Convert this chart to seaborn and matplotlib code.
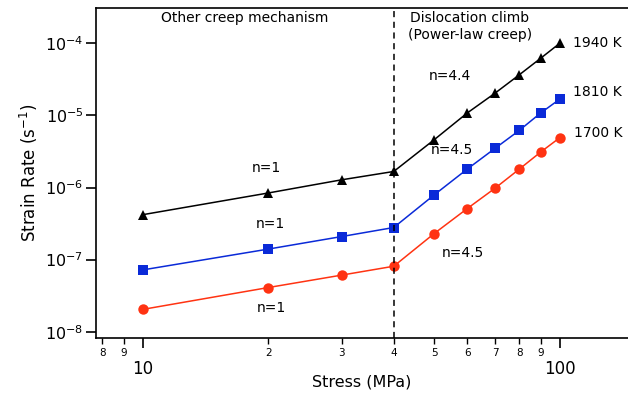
import numpy as np
import pandas as pd
import matplotlib

matplotlib.use("Agg")
import matplotlib.pyplot as plt
import matplotlib.ticker as mticker
import seaborn as sns

# ----------------------------------------------------------------------
# data
# ----------------------------------------------------------------------
stress = [10, 20, 30, 40, 50, 60, 70, 80, 90, 100]
rate_1940 = [4.2e-7, 8.4e-7, 1.28e-6, 1.67e-6, 4.6e-6, 1.08e-5, 2.04e-5, 3.66e-5, 6.2e-5, 1.0e-4]
rate_1810 = [7.2e-8, 1.40e-7, 2.09e-7, 2.79e-7, 7.9e-7, 1.8e-6, 3.5e-6, 6.2e-6, 1.08e-5, 1.68e-5]
rate_1700 = [2.04e-8, 4.1e-8, 6.1e-8, 8.1e-8, 2.3e-7, 5.1e-7, 9.8e-7, 1.8e-6, 3.1e-6, 4.9e-6]
temps = ["1940 K", "1810 K", "1700 K"]
boundary_stress = 40

x_major = [10, 100]
x_minor = [8, 9, 20, 30, 40, 50, 60, 70, 80, 90]
x_minor_labels = ["8", "9", "2", "3", "4", "5", "6", "7", "8", "9"]
y_ticks = [1e-8, 1e-7, 1e-6, 1e-5, 1e-4]

df = pd.DataFrame({
    "Stress": stress * 3,
    "Rate": rate_1940 + rate_1810 + rate_1700,
    "T": [t for t in temps for _ in stress],
})

colors = {"1940 K": "black", "1810 K": "#0a2ad8", "1700 K": "#ff3312"}
markers = {"1940 K": "^", "1810 K": "s", "1700 K": "o"}

sns.set_style("ticks")
plt.rcParams["font.family"] = ["DejaVu Sans"]
plt.rcParams["mathtext.fontset"] = "dejavusans"
plt.rcParams["text.color"] = "black"
plt.rcParams["axes.labelcolor"] = "black"

fig = plt.figure(figsize=(6.28, 3.94), dpi=100)
ax = fig.add_axes([0.1529, 0.1421, 0.8471, 0.8376])

sns.lineplot(data=df, x="Stress", y="Rate", hue="T", style="T",
             palette=colors, markers=markers, dashes=False,
             markersize=7.5, markeredgewidth=0, linewidth=1.1,
             legend=False, ax=ax)

ax.set_xscale("log")
ax.set_yscale("log")
ax.set_xlim(7.73, 145.8)
ax.set_ylim(10 ** -8.087, 10 ** -3.51)

ax.axvline(boundary_stress, color="black", linestyle=(0, (4, 3)), linewidth=1.1)

# x ticks: big labels on decades, small ones in between
ax.xaxis.set_major_locator(mticker.FixedLocator(x_major))
ax.xaxis.set_major_formatter(mticker.FixedFormatter([str(v) for v in x_major]))
ax.xaxis.set_minor_locator(mticker.FixedLocator(x_minor))
ax.xaxis.set_minor_formatter(mticker.FixedFormatter(x_minor_labels))
ax.tick_params(axis="x", which="major", direction="out", length=7, width=1.2,
               labelsize=12, pad=8.5, colors="black")
ax.tick_params(axis="x", which="minor", direction="out", length=4, width=1,
               labelsize=7.5, pad=3.5, colors="black")

ax.yaxis.set_major_locator(mticker.FixedLocator(y_ticks))
ax.yaxis.set_major_formatter(mticker.FuncFormatter(
    lambda v, p: r"$10^{%d}$" % int(round(np.log10(v)))))
ax.yaxis.set_minor_locator(mticker.NullLocator())
ax.tick_params(axis="y", which="major", direction="out", length=7, width=1.2,
               labelsize=11.5, pad=2, colors="black")

for s in ["left", "bottom", "top"]:
    ax.spines[s].set_linewidth(1.2)
    ax.spines[s].set_color("black")
ax.spines["right"].set_visible(False)

ax.set_xlabel("Stress (MPa)", fontsize=11.5, labelpad=-2)
ax.set_ylabel(r"Strain Rate (s$^{-1}$)", fontsize=12, labelpad=4)

# regime headers
ax.text(0.28, 0.97, "Other creep mechanism", transform=ax.transAxes,
        ha="center", va="center", fontsize=10)
ax.text(0.703, 0.97, "Dislocation climb", transform=ax.transAxes,
        ha="center", va="center", fontsize=10)
ax.text(0.703, 0.918, "(Power-law creep)", transform=ax.transAxes,
        ha="center", va="center", fontsize=10)

# slope annotations
ax.text(54.6, 3.54e-5, "n=4.4", ha="center", va="center", fontsize=10)
ax.text(55.2, 3.3e-6, "n=4.5", ha="center", va="center", fontsize=10)
ax.text(58.6, 1.24e-7, "n=4.5", ha="center", va="center", fontsize=10)
ax.text(19.8, 1.88e-6, "n=1", ha="center", va="center", fontsize=10)
ax.text(20.2, 3.14e-7, "n=1", ha="center", va="center", fontsize=10)
ax.text(20.3, 2.14e-8, "n=1", ha="center", va="center", fontsize=10)

# temperature labels
ax.text(107.7, 1.0e-4, "1940 K", ha="left", va="center", fontsize=10)
ax.text(107.7, 2.1e-5, "1810 K", ha="left", va="center", fontsize=10)
ax.text(108.5, 5.7e-6, "1700 K", ha="left", va="center", fontsize=10)

fig.savefig("out.png", dpi=100)
